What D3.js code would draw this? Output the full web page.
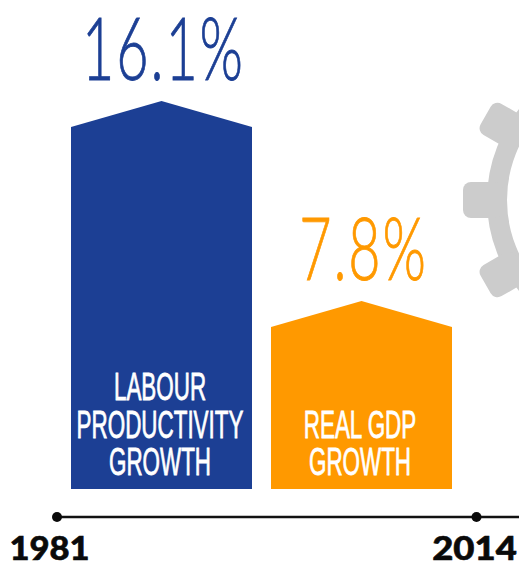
<!DOCTYPE html>
<html lang="en">
<head>
  <meta charset="UTF-8">
  <title>Labour productivity and real GDP growth</title>
  <style>
    html, body { margin: 0; padding: 0; background: #fff; overflow: hidden; }
    svg { display: block; }
    .value { font-family: Lato, sans-serif; font-weight: 300; font-size: 87px; letter-spacing: 3px; stroke-width: 0.9; text-anchor: middle; }
    .label { font-family: "Liberation Sans", sans-serif; font-size: 38px; fill: #fff; stroke: #fff; stroke-width: 0.8; text-anchor: middle; }
    .year { font-family: Lato, sans-serif; font-weight: 900; font-size: 32px; fill: #0a0a0a; stroke: #0a0a0a; stroke-width: 0.6; text-anchor: middle; }
  </style>
</head>
<body>
  <svg id="chart"></svg>
  <script src="https://d3js.org/d3.v7.min.js"></script>
  <script>
    const categories = ["Labour productivity growth", "Real GDP growth"];
    const values = [16.1, 7.8];
    const valueLabels = ["16.1%", "7.8%"];
    const barLabels = [["LABOUR", "PRODUCTIVITY", "GROWTH"], ["REAL GDP", "GROWTH"]];
    const colors = ["#1c3f94", "#ff9900"];
    const years = [1981, 2014];

    const width = 519;
    const height = 567;
    const baseY = 489;
    const shoulder = 26;

    const svg = d3.select("#chart")
      .attr("width", width)
      .attr("height", height);

    const x = d3.scaleBand().domain(categories).range([71, 452]).paddingInner(0.095);
    const y = d3.scaleLinear().domain([0, 16.1]).range([baseY, 101]);
    const t = d3.scaleLinear().domain(years).range([57, 476.5]);

    // gear in the background, cut off by the right edge
    const gear = svg.append("g").attr("transform", "translate(632,200)").attr("fill", "#cccccc");
    gear.append("circle")
      .attr("r", 135)
      .attr("fill", "none")
      .attr("stroke", "#cccccc")
      .attr("stroke-width", 20);
    gear.selectAll("rect")
      .data(d3.range(0, 360, 30))
      .enter().append("rect")
      .attr("x", -169)
      .attr("y", -18)
      .attr("width", 40)
      .attr("height", 36)
      .attr("rx", 8)
      .attr("transform", d => `rotate(${d})`);

    const outline = d3.line();
    const bars = svg.selectAll("g.bar")
      .data(categories)
      .enter().append("g")
      .attr("class", "bar");

    bars.append("path")
      .attr("fill", (d, i) => colors[i])
      .attr("d", (d, i) => {
        const x0 = x(d), x1 = x0 + x.bandwidth(), top = y(values[i]);
        return outline([[x0, baseY], [x0, top + shoulder], [(x0 + x1) / 2, top], [x1, top + shoulder], [x1, baseY]]) + "Z";
      });

    // the original face is a condensed geometric one, so squeeze what is installed
    bars.append("text")
      .attr("class", "value")
      .attr("fill", (d, i) => colors[i])
      .attr("stroke", (d, i) => colors[i])
      .attr("transform", (d, i) => `translate(${x(d) + x.bandwidth() / 2 + 2},${y(values[i]) - 21}) scale(0.64,1)`)
      .text((d, i) => valueLabels[i]);

    bars.each(function (d, i) {
      const lines = barLabels[i];
      d3.select(this).selectAll("text.label")
        .data(lines)
        .enter().append("text")
        .attr("class", "label")
        .attr("transform", (l, j) => `translate(${x(d) + x.bandwidth() / 2 - 1.5},${475 - (lines.length - 1 - j) * 37.5}) scale(0.59,1)`)
        .text(l => l);
    });

    // timeline
    svg.append("line")
      .attr("x1", t(1981))
      .attr("x2", width)
      .attr("y1", 517)
      .attr("y2", 517)
      .attr("stroke", "#111")
      .attr("stroke-width", 2.5);

    svg.selectAll("circle.tick")
      .data(years)
      .enter().append("circle")
      .attr("class", "tick")
      .attr("cx", d => t(d))
      .attr("cy", 517)
      .attr("r", 5)
      .attr("fill", "#0a0a0a");

    svg.selectAll("text.year")
      .data(years)
      .enter().append("text")
      .attr("class", "year")
      .attr("transform", d => `translate(${t(d) - (d === 1981 ? 7.5 : 2)},560) scale(${d === 1981 ? 1.08 : 1.14},1)`)
      .text(d => d);
  </script>
</body>
</html>
